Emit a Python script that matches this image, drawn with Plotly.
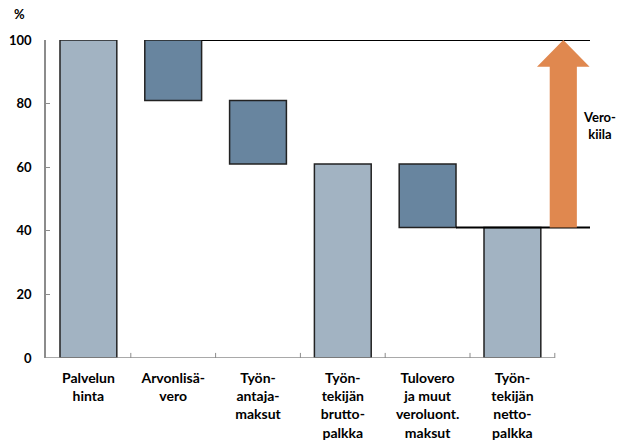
import plotly.graph_objects as go

categories = ["Palvelun<br>hinta", "Arvonlisä-<br>vero", "Työn-<br>antaja-<br>maksut",
              "Työn-<br>tekijän<br>brutto-<br>palkka", "Tulovero<br>ja muut<br>veroluont.<br>maksut",
              "Työn-<br>tekijän<br>netto-<br>palkka"]
bar_base = [0, 81, 61, 0, 41, 0]
bar_height = [100, 19, 20, 61, 20, 41]
bar_kind = ["total", "tax", "tax", "total", "tax", "total"]
y_ticks = [0, 20, 40, 60, 80, 100]
wedge_label = "Vero-<br>kiila"

LIGHT = "#A2B3C2"
DARK = "#68859F"
ORANGE = "#E0884F"
FONT = "Lato"
BW = 0.67
XMAX = 5.915
ARROW_X = 5.6

xs = list(range(len(categories)))
fig = go.Figure()
fig.add_trace(go.Bar(
    x=xs, y=bar_height, base=bar_base, width=BW,
    marker=dict(color=[LIGHT if k == "total" else DARK for k in bar_kind],
                line=dict(color="#222222", width=1.5)),
    hoverinfo="skip", showlegend=False))

shapes = []
# x axis line and boundary ticks
shapes.append(dict(type="line", xref="x", yref="y", x0=-0.5, x1=len(xs) - 0.5, y0=0, y1=0,
                   line=dict(color="#8C8C8C", width=1.5), layer="above"))
for i in range(1, len(xs) + 1):
    shapes.append(dict(type="line", xref="x", yref="y", x0=i - 0.5, x1=i - 0.5, y0=0, y1=1.6,
                       line=dict(color="#8C8C8C", width=1)))
# reference lines
top = bar_base[0] + bar_height[0]
net = bar_height[-1]
shapes.append(dict(type="line", xref="x", yref="y", x0=1 + BW / 2, x1=XMAX, y0=top, y1=top,
                   line=dict(color="black", width=2)))
shapes.append(dict(type="line", xref="x", yref="y", x0=4 + BW / 2, x1=XMAX, y0=net, y1=net,
                   line=dict(color="black", width=2)))
# arrow
sw, hw = 0.16, 0.31
head_y = top - 8.4
path = (f"M {ARROW_X - sw} {net} L {ARROW_X + sw} {net} L {ARROW_X + sw} {head_y} "
        f"L {ARROW_X + hw} {head_y} L {ARROW_X} {top} L {ARROW_X - hw} {head_y} "
        f"L {ARROW_X - sw} {head_y} Z")
shapes.append(dict(type="path", xref="x", yref="y", path=path, fillcolor=ORANGE,
                   line=dict(width=0)))

annotations = [
    dict(text="%", xref="paper", yref="paper", x=-0.048, y=1.082, showarrow=False,
         font=dict(family=FONT, size=13, color="black", weight="bold"),
         xanchor="center", yanchor="middle"),
    dict(text=wedge_label, xref="paper", x=1.018, xanchor="center", yref="y", y=73,
         yanchor="middle", showarrow=False,
         font=dict(family=FONT, size=13, color="black", weight="bold"), align="center"),
]

fig.update_layout(
    width=619, height=446,
    margin=dict(l=46, r=29, t=40, b=88, autoexpand=False),
    plot_bgcolor="white", paper_bgcolor="white",
    shapes=shapes, annotations=annotations,
    font=dict(family=FONT, size=13, color="black"),
    xaxis=dict(range=[-0.5, XMAX], tickvals=xs, ticktext=categories, showline=False,
               showgrid=False, zeroline=False, ticks="", automargin=False,
               ticklabelstandoff=10,
               tickfont=dict(family=FONT, size=14, color="black", weight="bold")),
    yaxis=dict(range=[0, 100], tickvals=y_ticks, showgrid=False, zeroline=False,
               showline=True, linecolor="#8C8C8C", linewidth=1.5, ticks="inside",
               ticklen=4, tickcolor="#8C8C8C", automargin=False,
               tickfont=dict(family=FONT, size=13, color="black", weight="bold"),
               ticklabelstandoff=10),
)
fig.write_html("out.html", config={"displayModeBar": False},
               post_script="document.body.style.margin='0';document.body.style.overflow='hidden';")
